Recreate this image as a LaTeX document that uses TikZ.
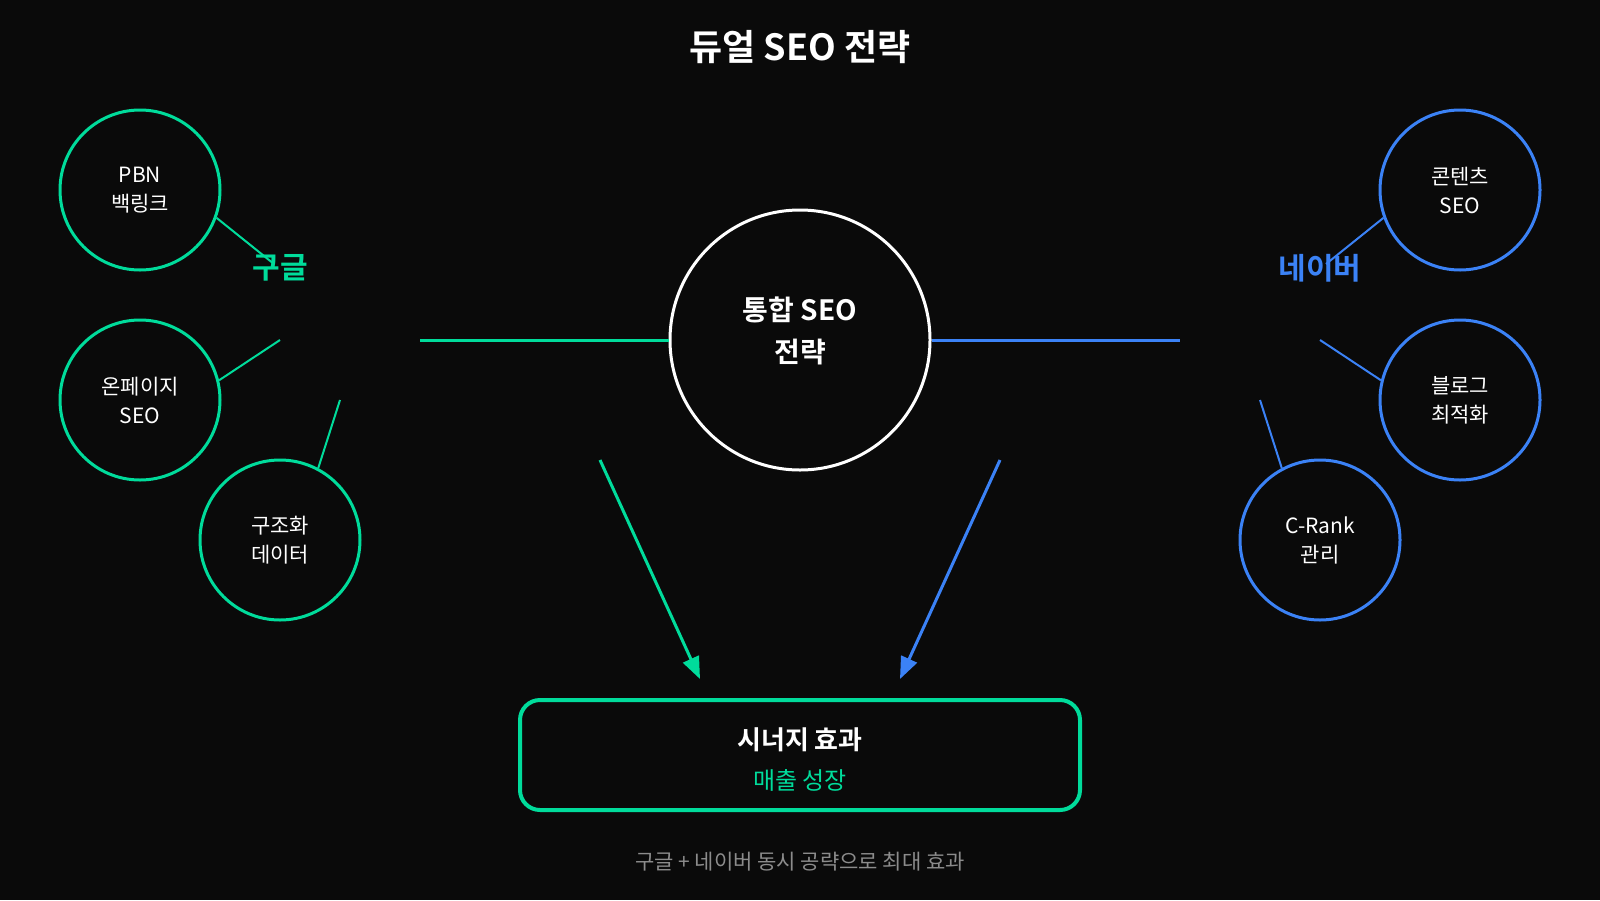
\documentclass[tikz,border=0pt]{standalone}
\usepackage{fontspec}
\setmainfont{Noto Sans CJK KR}[BoldFont={Noto Sans CJK KR Bold}]
\usepackage{tikz}
\usetikzlibrary{arrows.meta, positioning}
\definecolor{bgBlack}{HTML}{0A0A0A}
\definecolor{mainGreen}{HTML}{00DC9B}
\definecolor{mainBlue}{HTML}{3B82F6}
\definecolor{subGray}{gray}{0.55}

\tikzset{
    satNode/.style={circle, draw=#1, line width=3pt, minimum size=160pt, inner sep=0pt,
        align=center, text=white, font=\fontsize{21}{29}\selectfont},
    satLine/.style={line width=2pt, #1},
    hubLine/.style={line width=3pt, #1},
    flowArrow/.style={-{Triangle[length=22pt, width=17pt]}, line width=3pt, #1},
}

\begin{document}
\begin{tikzpicture}[x=1pt, y=-1pt]
    \fill[bgBlack] (0,0) rectangle (1600,900);

    \node[text=white, font=\bfseries\fontsize{36}{40}\selectfont] (title) at (800,47) {듀얼 SEO 전략};

    % 중앙 노드와 하단 박스
    \node[circle, draw=white, line width=3pt, minimum size=260pt] (main) at (800,340) {};
    \node[align=center, text=white, font=\bfseries\fontsize{28}{42}\selectfont] (mainText) at (800,331) {통합 SEO\\전략};
    \node[draw=mainGreen, line width=4pt, rounded corners=20pt, minimum width=560pt,
        minimum height=110pt] (synergy) at (800,755) {};
    \node[text=white, font=\bfseries\fontsize{26}{30}\selectfont] (synTitle) at (800,740) {시너지 효과};
    \node[text=mainGreen, font=\fontsize{24}{28}\selectfont] (synSub) at (800,780) {매출 성장};
    \node[text=subGray, font=\fontsize{21}{25}\selectfont] (footer) at (800,862) {구글 + 네이버 동시 공략으로 최대 효과};

    % 구글 쪽
    \node[satNode=mainGreen] (pbn) at (140,190) {PBN\\백링크};
    \node[satNode=mainGreen] (onpage) at (140,400) {온페이지\\SEO};
    \node[satNode=mainGreen] (schema) at (280,540) {구조화\\데이터};
    \node[text=mainGreen, font=\bfseries\fontsize{30}{34}\selectfont] (google) at (280,268) {구글};
    \coordinate (gA) at (274,264);
    \coordinate (gB) at (280,340);
    \coordinate (gC) at (340,400);
    \coordinate (gStart) at (420,340);
    \draw[satLine=mainGreen] (pbn.-20) -- (gA);
    \draw[satLine=mainGreen] (onpage.14) -- (gB);
    \draw[satLine=mainGreen] (schema.62) -- (gC);
    \draw[hubLine=mainGreen] (gStart) -- (main.west);

    % 네이버 쪽
    \node[satNode=mainBlue] (content) at (1460,190) {콘텐츠\\SEO};
    \node[satNode=mainBlue] (blog) at (1460,400) {블로그\\최적화};
    \node[satNode=mainBlue] (crank) at (1320,540) {C-Rank\\관리};
    \node[text=mainBlue, font=\bfseries\fontsize{30}{34}\selectfont] (naver) at (1320,268) {네이버};
    \coordinate (nA) at (1326,264);
    \coordinate (nB) at (1320,340);
    \coordinate (nC) at (1260,400);
    \coordinate (nStart) at (1180,340);
    \draw[satLine=mainBlue] (content.200) -- (nA);
    \draw[satLine=mainBlue] (blog.166) -- (nB);
    \draw[satLine=mainBlue] (crank.118) -- (nC);
    \draw[hubLine=mainBlue] (main.east) -- (nStart);

    \coordinate (gFrom) at (600,460);
    \coordinate (gTo) at (700,679);
    \coordinate (nFrom) at (1000,460);
    \coordinate (nTo) at (900,679);
    \draw[flowArrow=mainGreen] (gFrom) -- (gTo);
    \draw[flowArrow=mainBlue] (nFrom) -- (nTo);
\end{tikzpicture}
\end{document}
